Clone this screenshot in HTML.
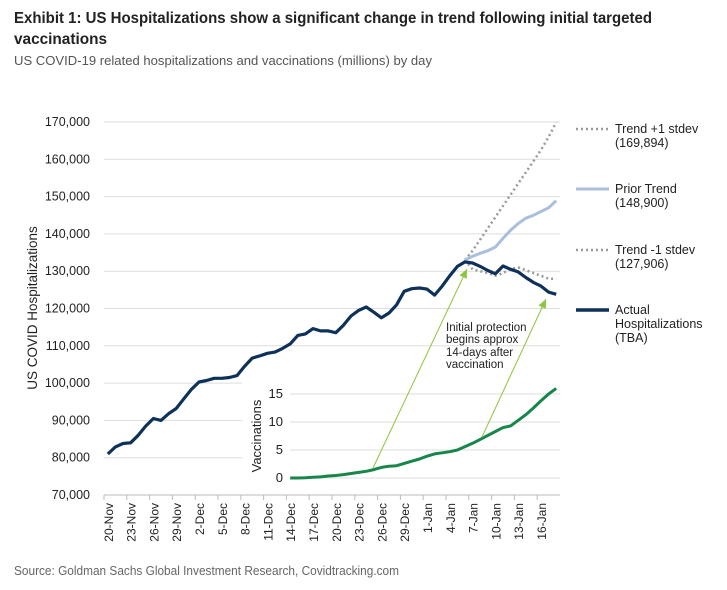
<!DOCTYPE html>
<html><head><meta charset="utf-8"><style>
body{margin:0;background:#fff;}
svg{display:block;font-family:"Liberation Sans",Arial,sans-serif;}
.narrow{font-family:"Liberation Sans Narrow","Liberation Sans",sans-serif;}
</style></head><body>
<svg id="chart" width="727" height="590" viewBox="0 0 727 590">
<text class="narrow" x="14" y="23" font-size="16" font-weight="bold" fill="#222" textLength="638" lengthAdjust="spacingAndGlyphs">Exhibit 1: US Hospitalizations show a significant change in trend following initial targeted</text>
<text class="narrow" x="14" y="44" font-size="16" font-weight="bold" fill="#222" textLength="93" lengthAdjust="spacingAndGlyphs">vaccinations</text>
<text class="narrow" x="14" y="65" font-size="13" fill="#555" textLength="418" lengthAdjust="spacingAndGlyphs">US COVID-19 related hospitalizations and vaccinations (millions) by day</text>
<g id="grid"></g>
<rect x="242" y="382" width="320" height="108" fill="#fff"/>
<g id="insetgrid"></g>
<g id="marks"></g>
<text x="37" y="308" font-size="13.5" fill="#222" text-anchor="middle" transform="rotate(-90 37 308)">US COVID  Hospitalizations</text>
<text x="261" y="436" font-size="13" fill="#222" text-anchor="middle" transform="rotate(-90 261 436)">Vaccinations</text>
<g font-size="11.5" fill="#222">
<text x="446" y="331">Initial  protection</text>
<text x="446" y="343">begins approx</text>
<text x="446" y="356">14-days after</text>
<text x="446" y="368">vaccination</text>
</g>
<g font-size="12.5" fill="#222">
<line x1="576" y1="129" x2="609" y2="129" stroke="#999" stroke-width="2.5" stroke-dasharray="2,3"/>
<text x="615" y="133">Trend +1 stdev</text>
<text x="615" y="147">(169,894)</text>
<line x1="576" y1="189" x2="609" y2="189" stroke="#a9bfdc" stroke-width="3"/>
<text x="615" y="193">Prior Trend</text>
<text x="615" y="207">(148,900)</text>
<line x1="576" y1="250" x2="609" y2="250" stroke="#999" stroke-width="2.5" stroke-dasharray="2,3"/>
<text x="615" y="254">Trend -1 stdev</text>
<text x="615" y="268">(127,906)</text>
<line x1="576" y1="310" x2="609" y2="310" stroke="#0d3158" stroke-width="3.5"/>
<text x="615" y="314">Actual</text>
<text x="615" y="328">Hospitalizations</text>
<text x="615" y="342">(TBA)</text>
</g>
<text class="narrow" x="14" y="575" font-size="13" fill="#666" textLength="385" lengthAdjust="spacingAndGlyphs">Source: Goldman Sachs Global Investment Research, Covidtracking.com</text>
</svg>
<script>
const yTicks=[70000,80000,90000,100000,110000,120000,130000,140000,150000,160000,170000];
const vTicks=[0,5,10,15];
const xLabels=["20-Nov","23-Nov","26-Nov","29-Nov","2-Dec","5-Dec","8-Dec","11-Dec","14-Dec","17-Dec","20-Dec","23-Dec","26-Dec","29-Dec","1-Jan","4-Jan","7-Jan","10-Jan","13-Jan","16-Jan"];
const actual=[81000,82900,83800,84000,86000,88500,90500,90000,91800,93200,95800,98300,100300,100700,101300,101300,101500,102000,104500,106700,107300,108000,108300,109300,110500,112800,113200,114600,114000,114000,113500,115500,118000,119500,120400,119000,117500,118800,121000,124600,125300,125500,125200,123600,126000,128800,131300,132500,132200,131300,130200,129300,131400,130500,129800,128300,127000,126000,124400,123800];
const trendStart=47;
const priorTrend=[133000,134000,134800,135500,136500,138800,141000,142800,144200,145000,146000,147000,148900];
const trendPlus=[133000,135500,138500,141500,144500,147500,150500,153500,156500,159500,162500,166000,169900];
const trendMinus=[133000,130500,130000,129500,128800,129500,130600,131000,130300,129500,128800,128000,127900];
const vaccStart=24;
const vaccinations=[0,0,0.05,0.15,0.2,0.35,0.45,0.6,0.8,1.0,1.2,1.5,1.9,2.1,2.2,2.6,3.0,3.4,3.9,4.3,4.5,4.7,5.0,5.6,6.2,6.9,7.6,8.3,9.0,9.3,10.3,11.3,12.5,13.8,15.0,16.0];

const X0=104,X1=560,N=60,dx=(X1-X0)/N;
const x=d=>X0+(d+0.5)*dx;
const y=v=>495-(v-70000)*(373/100000);
const yv=v=>478-v*(84/15);
const NS="http://www.w3.org/2000/svg";
function mk(tag,attrs,parent){const e=document.createElementNS(NS,tag);for(const k in attrs)e.setAttribute(k,attrs[k]);parent.appendChild(e);return e;}
const grid=document.getElementById('grid'),ig=document.getElementById('insetgrid'),marks=document.getElementById('marks');
yTicks.forEach(t=>{
  const l=mk('line',{x1:X0,x2:X1,y1:y(t),y2:y(t),stroke:t===70000?'#ccc':'#ddd','stroke-width':1},grid);
  
  
  const tx=mk('text',{x:90,y:y(t)+4,'font-size':12.5,fill:'#222','text-anchor':'end'},grid);
  tx.textContent=t.toLocaleString('en-US');
  
  
});
vTicks.forEach(t=>{
  const l=mk('line',{x1:290,x2:X1,y1:yv(t),y2:yv(t),stroke:'#ddd','stroke-width':1},ig);
  
  
  const tx=mk('text',{x:283,y:yv(t)+4,'font-size':13,fill:'#222','text-anchor':'end'},ig);
  tx.textContent=t;
  
  
});
mk('line',{x1:X0,x2:X1,y1:495,y2:495,stroke:'#bbb'},grid);
xLabels.forEach((lab,i)=>{
  const d=i*3;
  const tk=mk('line',{x1:X0+d*dx,x2:X0+d*dx,y1:495,y2:500,stroke:'#bbb'},grid);
  
  
  const cx=x(d)+1;
  const tx=mk('text',{x:cx+4,y:503,'font-size':12,fill:'#222','text-anchor':'end',transform:`rotate(-90 ${cx+4} 503)`},grid);
  tx.textContent=lab;
  
  
});
function path(vals,off,fy){return vals.map((v,i)=>(i?'L':'M')+x(i+off).toFixed(1)+','+fy(v).toFixed(1)).join(' ');}
const p1=mk('path',{d:path(trendPlus,trendStart,y),fill:'none',stroke:'#999','stroke-width':2.5,'stroke-dasharray':'2,3'},marks);


const p2=mk('path',{d:path(trendMinus,trendStart,y),fill:'none',stroke:'#999','stroke-width':2.5,'stroke-dasharray':'2,3'},marks);


const p3=mk('path',{d:path(priorTrend,trendStart,y),fill:'none',stroke:'#a9bfdc','stroke-width':3},marks);


const p4=mk('path',{d:path(actual,0,y),fill:'none',stroke:'#0d3158','stroke-width':3.2,'stroke-linejoin':'round'},marks);


const p5=mk('path',{d:path(vaccinations,vaccStart,yv),fill:'none',stroke:'#17864a','stroke-width':3,'stroke-linejoin':'round'},marks);


function arrow(x1,y1,x2,y2,name){
  const g=mk('g',{},marks);
  
  
  mk('line',{x1,y1,x2,y2,stroke:'#8cc63f','stroke-width':1},g);
  const a=Math.atan2(y2-y1,x2-x1),L=9,W=4;
  const bx=x2-L*Math.cos(a),by=y2-L*Math.sin(a);
  mk('polygon',{points:`${x2},${y2} ${bx+W*Math.sin(a)},${by-W*Math.cos(a)} ${bx-W*Math.sin(a)},${by+W*Math.cos(a)}`,fill:'#8cc63f'},g);
}
arrow(373,468,467,269,'annotation-arrow-1');
arrow(482,437,546,299,'annotation-arrow-2');
</script>
</body></html>
